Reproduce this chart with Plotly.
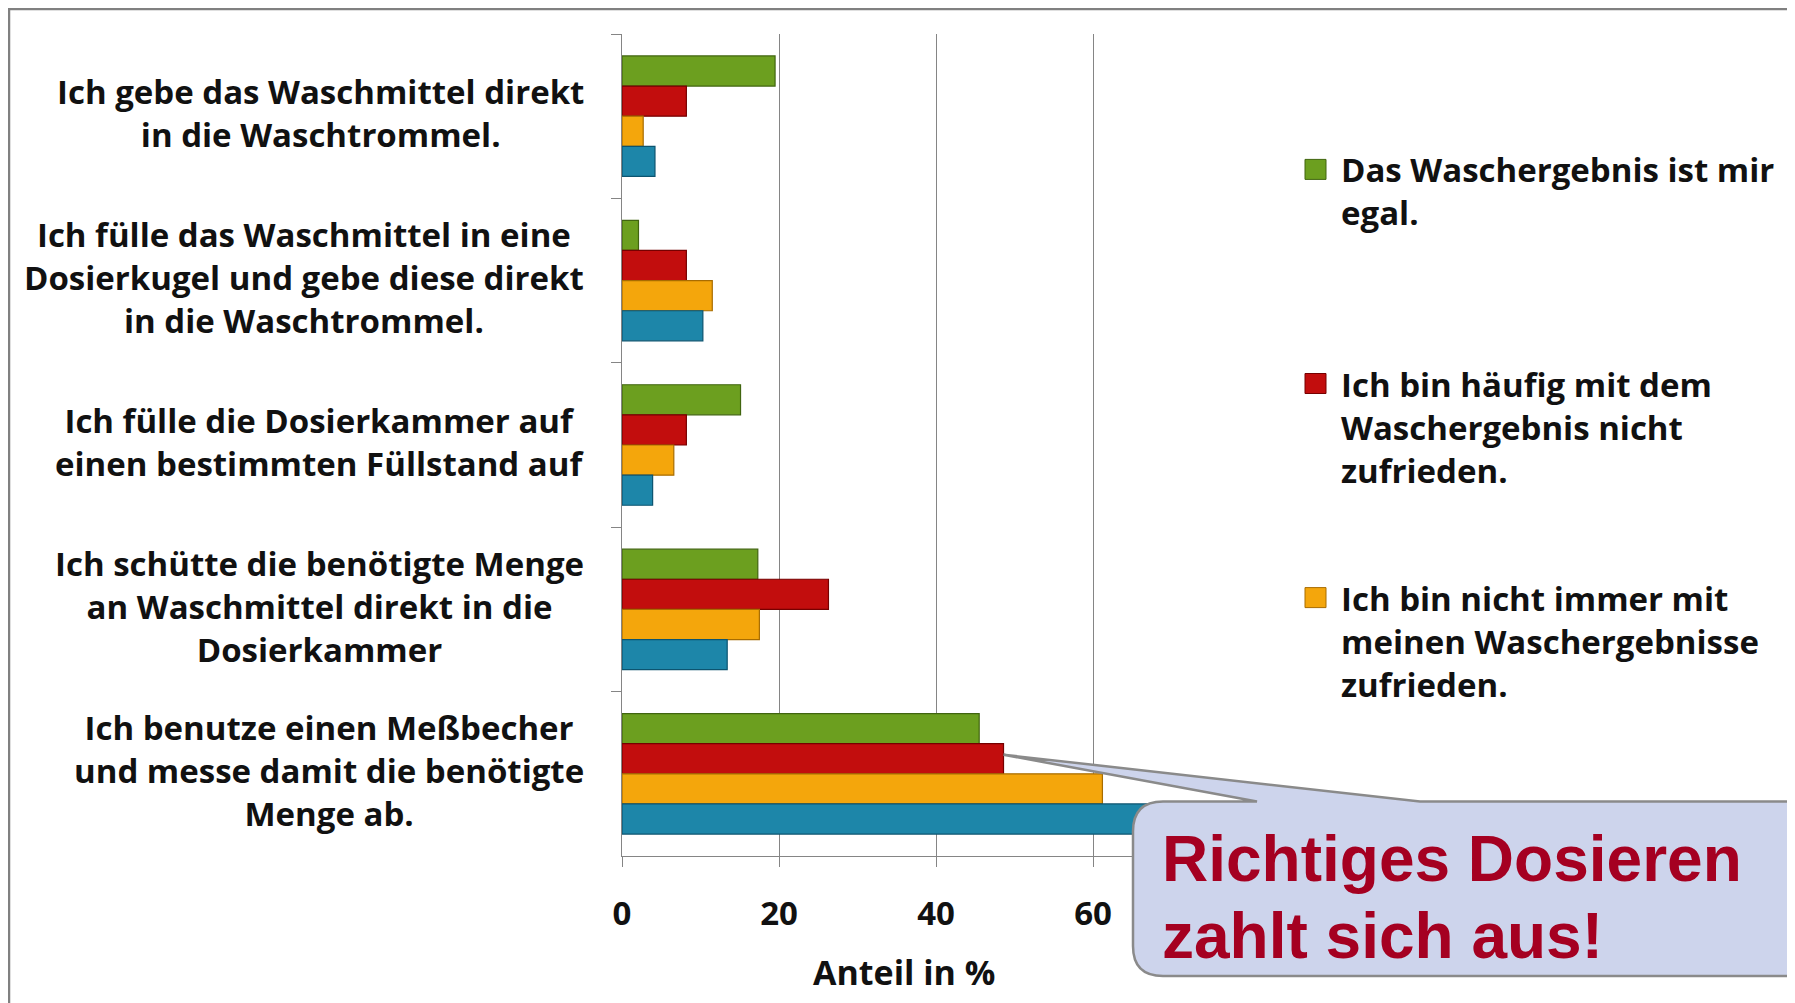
import plotly.graph_objects as go

# ---------------- data ----------------
categories = [
    "Ich gebe das Waschmittel direkt<br>in die Waschtrommel.",
    "Ich fülle das Waschmittel in eine<br>Dosierkugel und gebe diese direkt<br>in die Waschtrommel.",
    "Ich fülle die Dosierkammer auf<br>einen bestimmten Füllstand auf",
    "Ich schütte die benötigte Menge<br>an Waschmittel direkt in die<br>Dosierkammer",
    "Ich benutze einen Meßbecher<br>und messe damit die benötigte<br>Menge ab.",
]
series_names = [
    "Das Waschergebnis ist mir<br>egal.",
    "Ich bin häufig mit dem<br>Waschergebnis nicht<br>zufrieden.",
    "Ich bin nicht immer mit<br>meinen Waschergebnisse<br>zufrieden.",
    "Ich bin mit meinen Waschergebnissen zufrieden.",
]
green_vals = [19.5, 2.1, 15.1, 17.3, 45.5]
red_vals = [8.2, 8.2, 8.2, 26.3, 48.6]
orange_vals = [2.7, 11.5, 6.6, 17.5, 61.2]
blue_vals = [4.2, 10.3, 3.9, 13.4, 70.0]
x_ticks = [0, 20, 40, 60, 80]
x_title = "Anteil in %"
callout_lines = ["Richtiges Dosieren", "zahlt sich aus!"]

# ---------------- style ----------------
W, H = 1795, 1003
OFF = 8  # page body margin
ML, MT = 622 - OFF, 34 - OFF
PW, PH = 628, 822
MR, MB = W - ML - PW, H - MT - PH
XMAX = 80

fills = ["#6c9f1f", "#c20d0d", "#f4a60c", "#1d86a9"]
edges = ["#40650f", "#760000", "#a86c00", "#0c5470"]
TXT_FONT = "Open Sans, Lato, sans-serif"
TXT = "#111111"
FS = 33


def px2paper(x, y):
    # x, y are screen pixels of the reference
    return (x - OFF - ML) / PW, (H - MB - (y - OFF)) / PH


series_vals = [green_vals, red_vals, orange_vals, blue_vals]

fig = go.Figure()
for name, vals, f, e in zip(series_names, series_vals, fills, edges):
    fig.add_trace(go.Bar(
        y=categories, x=vals, orientation="h", name=name.replace("<br>", " "),
        marker=dict(color=f, line=dict(color=e, width=1.2)),
        showlegend=False,
    ))

fig.update_layout(
    width=W, height=H,
    margin=dict(l=ML, r=MR, t=MT, b=MB, pad=0),
    paper_bgcolor="white", plot_bgcolor="white",
    barmode="group", bargap=0.267, bargroupgap=0,
    font=dict(family=TXT_FONT, color=TXT, size=FS),
)
fig.update_xaxes(
    range=[0, XMAX], tickvals=x_ticks, showgrid=True, gridcolor="#858585", gridwidth=1,
    showline=True, linecolor="#858585", linewidth=1.2,
    ticks="outside", ticklen=10, tickcolor="#858585",
    tickfont=dict(family=TXT_FONT, size=FS, color=TXT, weight="bold"),
    ticklabelstandoff=18, zeroline=False,
)
fig.update_yaxes(
    autorange="reversed", showticklabels=False, showgrid=False,
    showline=True, linecolor="#858585", linewidth=1.2,
    ticks="outside", ticklen=10, tickcolor="#858585", tickson="boundaries",
)

annotations = []
# category labels
for c in categories:
    annotations.append(dict(
        x=0, xref="paper", y=c, yref="y", xanchor="right", yanchor="middle",
        xshift=-36, yshift=3, text="<b>" + c + "</b>", showarrow=False, align="center",
        font=dict(family=TXT_FONT, size=FS, color=TXT),
    ))
# axis title
tx, ty = px2paper(904, 972)
annotations.append(dict(
    x=tx, y=ty, xref="paper", yref="paper", text="<b>" + x_title + "</b>",
    showarrow=False, xanchor="center", yanchor="middle",
    font=dict(family=TXT_FONT, size=34, color=TXT),
))

shapes = []
# manual legend (the fourth entry is hidden behind the callout in the reference)
legend_y = [169.4, 383.5, 597.6]
for i, cy in enumerate(legend_y):
    x0, y0 = px2paper(1305, cy - 10)
    x1, y1 = px2paper(1326, cy + 10)
    shapes.append(dict(type="rect", xref="paper", yref="paper", x0=x0, x1=x1, y0=y0, y1=y1,
                       fillcolor=fills[i], line=dict(color=edges[i], width=1)))
    lx, ly = px2paper(1339, cy - 24)
    annotations.append(dict(
        x=lx, y=ly, xref="paper", yref="paper", xanchor="left", yanchor="top",
        text="<b>" + series_names[i] + "</b>", showarrow=False, align="left",
        font=dict(family=TXT_FONT, size=FS, color=TXT),
    ))

# callout with pointer to the red bar of the last category
cat_h = PH / len(categories)
bar_h = cat_h * (1 - 0.267) / 4
tip_x = OFF + ML + red_vals[4] / XMAX * PW
tip_y = OFF + MT + 4.5 * cat_h - 0.5 * bar_h - 4
bl, bt, bb, br, r = 1133, 801.5, 976, 1820, 30


def P(x, y):
    a, b = px2paper(x, y)
    return f"{a:.5f},{b:.5f}"


path = (
    f"M {P(1257, bt)} L {P(tip_x, tip_y)} L {P(1420, bt)} L {P(br, bt)} L {P(br, bb)} "
    f"L {P(bl + r, bb)} Q {P(bl, bb)} {P(bl, bb - r)} L {P(bl, bt + r)} "
    f"Q {P(bl, bt)} {P(bl + r, bt)} Z"
)
shapes.append(dict(type="path", xref="paper", yref="paper", path=path, layer="above",
                   fillcolor="#cdd4ec", line=dict(color="#8a8a8a", width=2.5)))

for txt, cy in zip(callout_lines, [858.6, 936.5]):
    ax, ay = px2paper(1160, cy)
    annotations.append(dict(
        x=ax, y=ay, xref="paper", yref="paper", xanchor="left", yanchor="middle",
        text="<b>" + txt + "</b>", showarrow=False,
        font=dict(family="Liberation Sans, Arial, sans-serif", size=64, color="#a50021"),
    ))

# outer frame
fx0, fy0 = px2paper(9, 9)
fx1, fy1 = px2paper(1830, 1030)
shapes.insert(0, dict(type="rect", xref="paper", yref="paper", x0=fx0, x1=fx1, y0=fy0, y1=fy1,
                      line=dict(color="#808080", width=2.5), fillcolor="rgba(0,0,0,0)", layer="below"))

fig.update_layout(annotations=annotations, shapes=shapes)
fig.write_html("out.html")
